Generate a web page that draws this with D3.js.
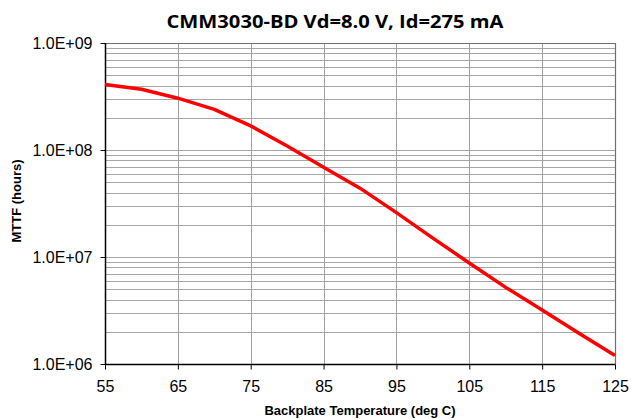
<!DOCTYPE html>
<html><head><meta charset="utf-8">
<script src="https://cdn.jsdelivr.net/npm/d3@7"></script>
<style>body{margin:0;background:#fff}svg{display:block}</style>
</head><body>
<svg id="c" width="631" height="419"></svg>
<script>
const title = "CMM3030-BD Vd=8.0 V, Id=275 mA";
const xTitle = "Backplate Temperature (deg C)";
const yTitle = "MTTF (hours)";
const temps = [55, 60, 65, 70, 75, 80, 85, 90, 95, 100, 105, 110, 115, 120, 125];
const mttf = [4.1e8, 3.7e8, 3.05e8, 2.4e8, 1.68e8, 1.09e8, 6.9e7, 4.4e7, 2.6e7, 1.5e7, 8.8e6, 5.2e6, 3.2e6, 1.95e6, 1.2e6];
const xTicks = [55, 65, 75, 85, 95, 105, 115, 125];
const yTicks = [1e6, 1e7, 1e8, 1e9];
const yTickLabels = ["1.0E+06", "1.0E+07", "1.0E+08", "1.0E+09"];

const svg = d3.select("#c");
const L = 105, R = 615, T = 43, B = 364;
const x = d3.scaleLinear().domain([55, 125]).range([L, R]);
const y = d3.scaleLog().domain([1e6, 1e9]).range([B, T]);

// minor horizontal grid
const minor = [];
for (let e = 6; e < 9; e++) for (let m = 1; m <= 9; m++) if (!(e===6 && m===1)) minor.push(m * Math.pow(10, e));
minor.push(1e9);
svg.append("g").selectAll("line").data(minor).join("line")
  .attr("x1", L).attr("x2", R)
  .attr("y1", d => Math.round(y(d)) + 0.5).attr("y2", d => Math.round(y(d)) + 0.5)
  .attr("stroke", "#a6a6a6").attr("stroke-width", 1);
// vertical grid
svg.append("g").selectAll("line").data(xTicks.slice(1)).join("line")
  .attr("x1", d => Math.round(x(d)) + 0.5).attr("x2", d => Math.round(x(d)) + 0.5)
  .attr("y1", T).attr("y2", B)
  .attr("stroke", "#a0a0a0").attr("stroke-width", 1);
// border top/right
svg.append("path")
  .attr("d", `M${L},${T+0.5}H${R+0.5}V${B}`)
  .attr("fill", "none").attr("stroke", "#707070").attr("stroke-width", 1.2);

// axes
const xAxis = d3.axisBottom(x).tickValues(xTicks).tickSize(5).tickPadding(11).tickFormat(d3.format("d"));
const gx = svg.append("g").attr("transform", `translate(0,${B + 0.5})`).call(xAxis);
const yAxis = d3.axisLeft(y).tickValues(yTicks).tickSize(5).tickPadding(8).tickFormat((d, i) => yTickLabels[i]);
const gy = svg.append("g").attr("transform", `translate(${L + 0.5},0)`).call(yAxis);
[gx, gy].forEach(g => {
  g.attr("font-size", null).attr("font-family", null);
  g.select(".domain").attr("stroke", "#000").attr("stroke-width", 1.5);
  g.selectAll(".tick line").attr("stroke", "#000");
  g.selectAll("text").style("font-family", "'Liberation Sans', Arial, sans-serif").style("font-size", "16px").attr("fill", "#000");
});
gx.select(".domain").attr("d", `M${L},0H${R+0.5}`);
gy.select(".domain").attr("d", `M0,${T}V${B}`);

// line
const line = d3.line().x((d, i) => x(temps[i])).y(d => y(d));
svg.append("path").datum(mttf).attr("d", line)
  .attr("fill", "none").attr("stroke", "#ff0000").attr("stroke-width", 3.5).attr("stroke-linejoin", "round");

// titles
svg.append("text").attr("x", 335).attr("y", 28).attr("text-anchor", "middle")
  .style("font-family", "'Open Sans', sans-serif").style("font-weight", "bold").style("font-size", "18px")
  .attr("textLength", 337).attr("lengthAdjust", "spacingAndGlyphs")
  .text(title);
svg.append("text").attr("x", 360).attr("y", 415).attr("text-anchor", "middle")
  .style("font-family", "'Liberation Sans', Arial, sans-serif").style("font-weight", "bold").style("font-size", "13px")
  .text(xTitle);
svg.append("text").attr("transform", "translate(21,201) rotate(-90)").attr("text-anchor", "middle")
  .style("font-family", "'Liberation Sans', Arial, sans-serif").style("font-weight", "bold").style("font-size", "13px")
  .text(yTitle);
</script>
</body></html>
